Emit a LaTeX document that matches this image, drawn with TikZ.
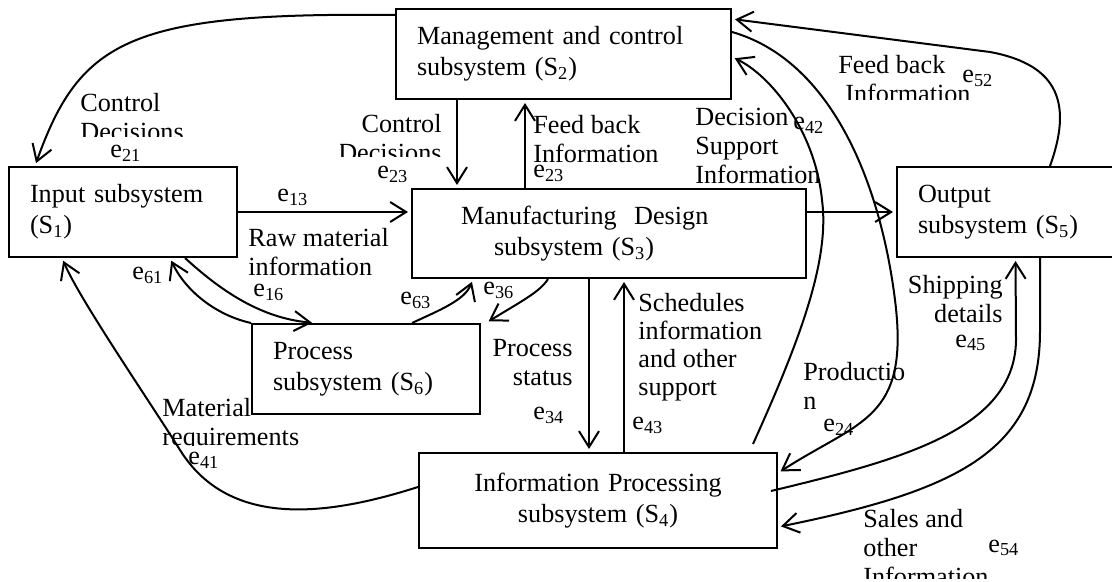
\documentclass[tikz,border=0pt]{standalone}
\usepackage{fontspec}
\setmainfont{Liberation Serif}
\usetikzlibrary{arrows.meta}

\begin{document}
\begin{tikzpicture}[x=0.5pt,y=-0.5pt,
  sub/.style={draw,line width=1pt,inner xsep=10.5pt,inner ysep=0pt,align=left,
    minimum height=45pt,font=\fontsize{13.1}{15.5}\selectfont},
  q/.style={inner sep=0pt,align=left,anchor=west,font=\fontsize{13.1}{14.5}\selectfont},
  arr/.style={-{Straight Barb[length=8pt,width=10pt]},line width=1pt,shorten >=1.5pt}]
  \useasboundingbox (0,0) rectangle (1112,582);
  \node[sub,text width=93pt] (inp) at (123,212) {Input subsystem\\(S\textsubscript{1})};
  \node[sub,text width=146.5pt] (mgmt) at (563.5,54) {Management and control\\subsystem (S\textsubscript{2})};
  \node[sub,text width=176pt,minimum height=44.5pt] (mfg) at (609,233.5)
    {\hspace*{14pt}Manufacturing\ \ Design\\\hspace*{30.5pt}subsystem (S\textsubscript{3})};
  \node[sub,text width=95.5pt] (outp) at (1013.5,212) {Output\\subsystem (S\textsubscript{5})};
  \node[sub,text width=93pt] (proc) at (366,369) {Process\\subsystem (S\textsubscript{6})};
  \node[sub,text width=158pt,minimum height=47.5pt,align=center] (info) at (598,500.5)
    {Information Processing\\subsystem (S\textsubscript{4})};
  \draw[arr] ([yshift=19.5pt]mgmt.west) .. controls (130,12) and (80,40) .. ([xshift=-44pt]inp.north);
  \draw[arr] ([xshift=-53.25pt]mgmt.south) -- ([xshift=-53.25pt]mgmt.south |- mfg.north);
  \draw[arr] ([xshift=-42pt]mfg.north) -- ([xshift=-42pt]mfg.north |- mgmt.south);
  \draw[arr] (inp.east) -- (inp.east -| mfg.west);
  \draw[arr] (mfg.east |- outp.west) -- (outp.west);
  \draw[arr] ([xshift=-10pt]mfg.south) -- ([xshift=-10pt]mfg.south |- info.north);
  \draw[arr] ([xshift=7.5pt]mfg.south |- info.north) -- ([xshift=7.5pt]mfg.south);
  \draw[arr] ([xshift=31pt]inp.south) .. controls (220,290) and (260,318) .. ([xshift=-25.5pt]proc.north);
  \draw[arr] (proc.north west) .. controls (215,315) and (185,290) .. ([xshift=23.5pt]inp.south);
  \draw[arr] ([xshift=23pt]proc.north) .. controls (440,310) and (465,300) .. ([xshift=-68pt]mfg.south);
  \draw[arr] ([xshift=-30.5pt]mfg.south) .. controls (540,292) and (520,302) .. ([xshift=2.5pt]proc.north east);
  \draw[arr] ([yshift=6.75pt]info.west) .. controls (330,515) and (230,530) .. (180,450)
    .. controls (150,402) and (80,300) .. ([xshift=-30.5pt]inp.south);
  \draw[arr] ([xshift=-12.5pt,yshift=4pt]info.north east) .. controls (800,340) and (830,260) .. (822,200)
    .. controls (815,130) and (770,75) .. ([yshift=-1.5pt]mgmt.east);
  \draw[arr] ([yshift=11pt]mgmt.east) .. controls (830,60) and (880,180) .. (895,300)
    .. controls (910,420) and (860,420) .. ([yshift=13.75pt]info.east);
  \draw[arr] ([xshift=-3.5pt,yshift=4.75pt]info.east) .. controls (900,460) and (1015,430) .. (1016,340)
    -- ([xshift=1pt]outp.south);
  \draw[arr] ([xshift=13.25pt]outp.south) -- ++(0,73) .. controls (1040,450) and (960,490) .. ([yshift=-13.25pt]info.east);
  \draw[arr] ([xshift=18.25pt]outp.north) .. controls (1072,105) and (1060,65) .. (990,52) -- ([yshift=17.5pt]mgmt.east);
  \begin{scope}
    \clip (60,90) rectangle (300,137);
    \node[q] (t21) at (80,117.5) {Control\\Decisions};
  \end{scope}
  \node[q] (e21) at (110,153) {e\textsubscript{21}};
  \begin{scope}
    \clip (340,100) rectangle (450,157);
    \node[q,anchor=east,align=right] (t23a) at (442,138.5) {Control\\Decisions};
  \end{scope}
  \node[q] (e23a) at (377,174) {e\textsubscript{23}};
  \node[q] (t23b) at (533,139) {Feed back\\Information};
  \node[q] (e23b) at (533,173) {e\textsubscript{23}};
  \node[q] (t42) at (695,145.5) {Decision\\Support\\Information};
  \node[q] (e42) at (793,125) {e\textsubscript{42}};
  \begin{scope}
    \clip (820,40) rectangle (1000,100);
    \node[q] (t52) at (838,79) {Feed back\\\hspace*{3.5pt}Information};
  \end{scope}
  \node[q] (e52) at (962,78) {e\textsubscript{52}};
  \node[q] (e13) at (277,197) {e\textsubscript{13}};
  \node[q] (t13) at (248,252.5) {Raw material\\information};
  \node[q] (e16) at (253,292) {e\textsubscript{16}};
  \node[q] (e61) at (132,275) {e\textsubscript{61}};
  \node[q] (e63) at (400,300) {e\textsubscript{63}};
  \node[q] (e36) at (483,290) {e\textsubscript{36}};
  \node[q,anchor=east,align=right] (t34) at (573,363) {Process\\status};
  \node[q] (e34) at (533,415) {e\textsubscript{34}};
  \node[q,font=\fontsize{13.1}{14}\selectfont] (t43) at (638,347) {Schedules\\information\\and other\\support};
  \node[q] (e43) at (632,425) {e\textsubscript{43}};
  \node[q] (t24) at (803,386) {Productio\\n};
  \node[q] (e24) at (823,427) {e\textsubscript{24}};
  \node[q,anchor=east,align=right] (t45) at (1003,299) {Shipping\\details};
  \node[q] (e45) at (955,343) {e\textsubscript{45}};
  \begin{scope}
    \clip (140,380) rectangle (420,445);
    \node[q] (t41) at (162,424.5) {Material\\requirements};
  \end{scope}
  \node[q] (e41) at (188,460) {e\textsubscript{41}};
  \begin{scope}
    \clip (840,500) rectangle (1100,578);
    \node[q] (t54) at (863,548) {Sales and\\other\\Information};
  \end{scope}
  \node[q] (e54) at (988,548) {e\textsubscript{54}};
\end{tikzpicture}
\end{document}
